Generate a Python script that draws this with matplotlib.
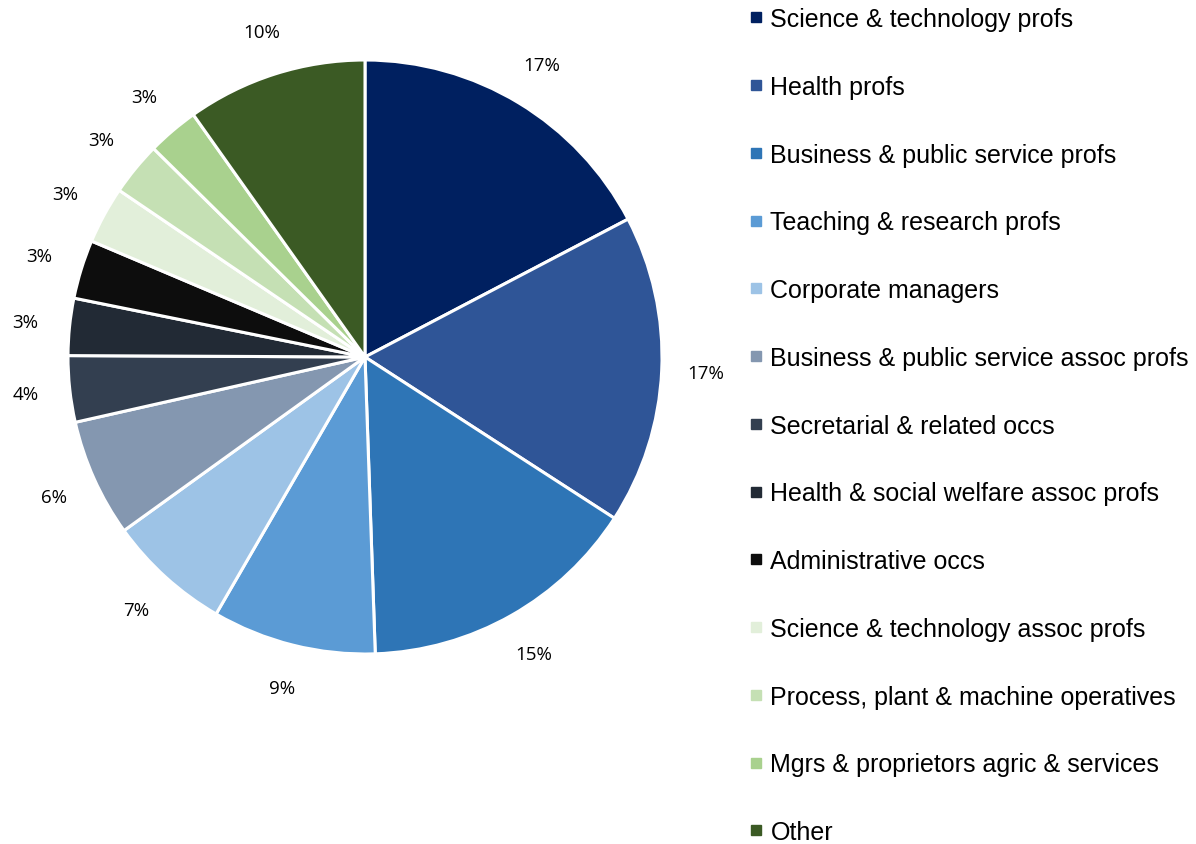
"""Koláčový graf: struktura povolání (podíly v %)."""

import matplotlib.pyplot as plt
from matplotlib.lines import Line2D

# kategorie
categories = [
    "Science & technology profs",
    "Health profs",
    "Business & public service profs",
    "Teaching & research profs",
    "Corporate managers",
    "Business & public service assoc profs",
    "Secretarial & related occs",
    "Health & social welfare assoc profs",
    "Administrative occs",
    "Science & technology assoc profs",
    "Process, plant & machine operatives",
    "Mgrs & proprietors agric & services",
    "Other",
]

# podíly
shares = [17.3, 16.8, 15.3, 8.9, 6.7, 6.4, 3.6, 3.1, 3.2, 3.1, 2.9, 2.8, 9.8]

# barvy výsečí
colors = [
    "#002060", "#2F5597", "#2E75B6", "#5B9BD5", "#9DC3E6", "#8497B0",
    "#333F50", "#222A35", "#0D0D0D", "#E2EFDA", "#C5E0B4", "#A9D18E",
    "#3B5A24",
]

fig = plt.figure(figsize=(11.96, 8.45), dpi=100)

# osa pro koláč: střed ~ (365, 358) px, poloměr ~ 297 px
W, H = 1196, 845
cx, cy, r = 365, 358, 297
ax = fig.add_axes([(cx - r) / W, (H - cy - r) / H, 2 * r / W, 2 * r / H])

wedges, texts, autotexts = ax.pie(
    shares,
    colors=colors,
    startangle=90,
    counterclock=False,
    autopct=lambda p: f"{p:.0f}%",
    pctdistance=1.15,
    wedgeprops=dict(edgecolor="white", linewidth=2.2),
    textprops=dict(fontsize=13.5, family="Open Sans", color="#000000"),
)
for w in wedges:
    w.set_clip_on(False)
ax.set_xlim(-1, 1)
ax.set_ylim(-1, 1)
ax.set_aspect("equal")

# legenda vpravo
handles = [
    Line2D([], [], linestyle="none", marker="s", markersize=7,
           markerfacecolor=c, markeredgecolor=c)
    for c in colors
]
fig.legend(
    handles, categories,
    loc="upper left",
    bbox_to_anchor=(748 / W, 1 - 8 / H),
    frameon=False,
    borderaxespad=0,
    borderpad=0,
    handlelength=0.6,
    handletextpad=0.3,
    labelspacing=1.75,
    prop=dict(family="Liberation Sans", size=18),
)

plt.savefig("out.png", dpi=100)
